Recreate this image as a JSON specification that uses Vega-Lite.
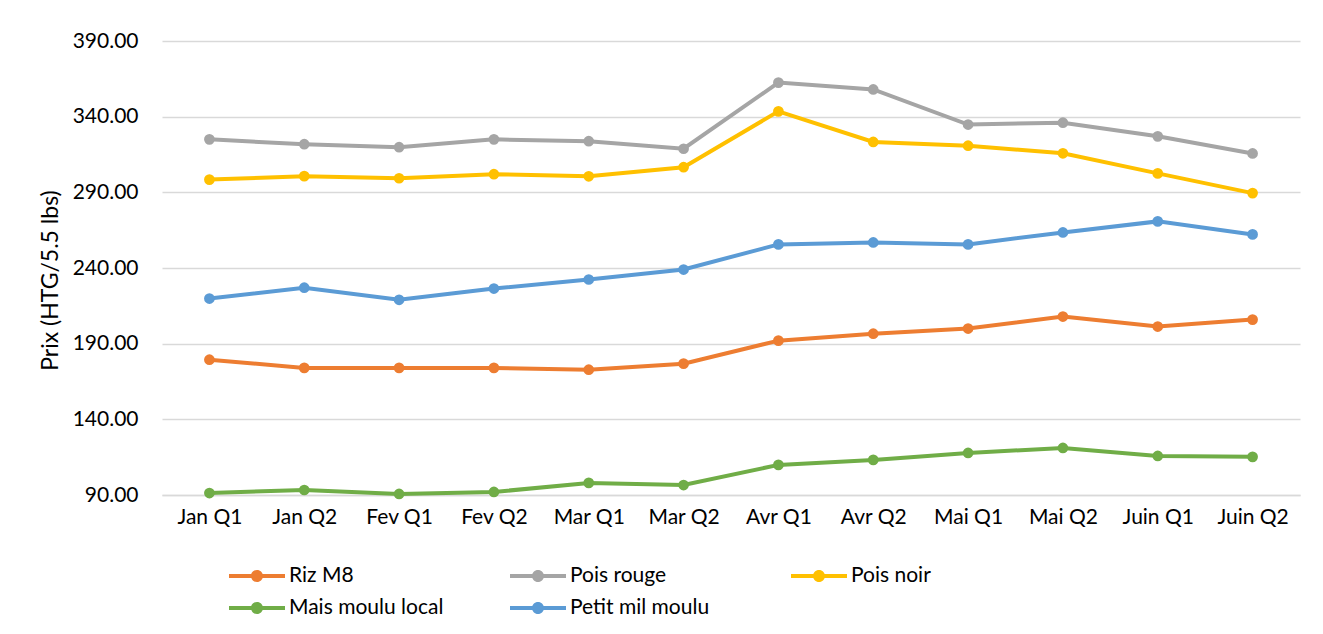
{
  "$schema": "https://vega.github.io/schema/vega-lite/v6.json",
  "width": 1138,
  "height": 454,
  "autosize": {"type": "none"},
  "padding": {"left": 162, "top": 41, "right": 23, "bottom": 139},
  "background": "#ffffff",
  "config": {
    "view": {"stroke": null},
    "font": "Lato",
    "axis": {"labelFont": "Lato", "titleFont": "Lato", "labelColor": "#000000", "titleColor": "#000000"}
  },
  "data": {
    "values": [
      {"periode": "Jan Q1", "produit": "Riz M8", "prix": 179.4},
      {"periode": "Jan Q2", "produit": "Riz M8", "prix": 174.0},
      {"periode": "Fev Q1", "produit": "Riz M8", "prix": 174.0},
      {"periode": "Fev Q2", "produit": "Riz M8", "prix": 174.0},
      {"periode": "Mar Q1", "produit": "Riz M8", "prix": 172.8},
      {"periode": "Mar Q2", "produit": "Riz M8", "prix": 176.8},
      {"periode": "Avr Q1", "produit": "Riz M8", "prix": 192.0},
      {"periode": "Avr Q2", "produit": "Riz M8", "prix": 196.6},
      {"periode": "Mai Q1", "produit": "Riz M8", "prix": 200.0},
      {"periode": "Mai Q2", "produit": "Riz M8", "prix": 207.9},
      {"periode": "Juin Q1", "produit": "Riz M8", "prix": 201.3},
      {"periode": "Juin Q2", "produit": "Riz M8", "prix": 205.9},
      {"periode": "Jan Q1", "produit": "Pois rouge", "prix": 325.0},
      {"periode": "Jan Q2", "produit": "Pois rouge", "prix": 321.8},
      {"periode": "Fev Q1", "produit": "Pois rouge", "prix": 319.8},
      {"periode": "Fev Q2", "produit": "Pois rouge", "prix": 325.0},
      {"periode": "Mar Q1", "produit": "Pois rouge", "prix": 323.8},
      {"periode": "Mar Q2", "produit": "Pois rouge", "prix": 318.8},
      {"periode": "Avr Q1", "produit": "Pois rouge", "prix": 362.5},
      {"periode": "Avr Q2", "produit": "Pois rouge", "prix": 358.0},
      {"periode": "Mai Q1", "produit": "Pois rouge", "prix": 334.8},
      {"periode": "Mai Q2", "produit": "Pois rouge", "prix": 336.0},
      {"periode": "Juin Q1", "produit": "Pois rouge", "prix": 327.0},
      {"periode": "Juin Q2", "produit": "Pois rouge", "prix": 315.7},
      {"periode": "Jan Q1", "produit": "Pois noir", "prix": 298.4},
      {"periode": "Jan Q2", "produit": "Pois noir", "prix": 300.7},
      {"periode": "Fev Q1", "produit": "Pois noir", "prix": 299.3},
      {"periode": "Fev Q2", "produit": "Pois noir", "prix": 302.0},
      {"periode": "Mar Q1", "produit": "Pois noir", "prix": 300.6},
      {"periode": "Mar Q2", "produit": "Pois noir", "prix": 306.6},
      {"periode": "Avr Q1", "produit": "Pois noir", "prix": 343.5},
      {"periode": "Avr Q2", "produit": "Pois noir", "prix": 323.3},
      {"periode": "Mai Q1", "produit": "Pois noir", "prix": 320.8},
      {"periode": "Mai Q2", "produit": "Pois noir", "prix": 315.8},
      {"periode": "Juin Q1", "produit": "Pois noir", "prix": 302.5},
      {"periode": "Juin Q2", "produit": "Pois noir", "prix": 289.5},
      {"periode": "Jan Q1", "produit": "Mais moulu local", "prix": 91.3},
      {"periode": "Jan Q2", "produit": "Mais moulu local", "prix": 93.3},
      {"periode": "Fev Q1", "produit": "Mais moulu local", "prix": 90.7},
      {"periode": "Fev Q2", "produit": "Mais moulu local", "prix": 92.0},
      {"periode": "Mar Q1", "produit": "Mais moulu local", "prix": 98.0},
      {"periode": "Mar Q2", "produit": "Mais moulu local", "prix": 96.6},
      {"periode": "Avr Q1", "produit": "Mais moulu local", "prix": 109.9},
      {"periode": "Avr Q2", "produit": "Mais moulu local", "prix": 113.2},
      {"periode": "Mai Q1", "produit": "Mais moulu local", "prix": 117.8},
      {"periode": "Mai Q2", "produit": "Mais moulu local", "prix": 121.1},
      {"periode": "Juin Q1", "produit": "Mais moulu local", "prix": 115.8},
      {"periode": "Juin Q2", "produit": "Mais moulu local", "prix": 115.2},
      {"periode": "Jan Q1", "produit": "Petit mil moulu", "prix": 219.8},
      {"periode": "Jan Q2", "produit": "Petit mil moulu", "prix": 227.0},
      {"periode": "Fev Q1", "produit": "Petit mil moulu", "prix": 219.0},
      {"periode": "Fev Q2", "produit": "Petit mil moulu", "prix": 226.4},
      {"periode": "Mar Q1", "produit": "Petit mil moulu", "prix": 232.4},
      {"periode": "Mar Q2", "produit": "Petit mil moulu", "prix": 239.0},
      {"periode": "Avr Q1", "produit": "Petit mil moulu", "prix": 255.6},
      {"periode": "Avr Q2", "produit": "Petit mil moulu", "prix": 256.9},
      {"periode": "Mai Q1", "produit": "Petit mil moulu", "prix": 255.6},
      {"periode": "Mai Q2", "produit": "Petit mil moulu", "prix": 263.5},
      {"periode": "Juin Q1", "produit": "Petit mil moulu", "prix": 270.8},
      {"periode": "Juin Q2", "produit": "Petit mil moulu", "prix": 262.2}
    ]
  },
  "mark": {"type": "line", "strokeWidth": 4, "point": {"filled": true, "size": 115, "opacity": 1}},
  "encoding": {
    "x": {
      "field": "periode",
      "type": "nominal",
      "sort": ["Jan Q1", "Jan Q2", "Fev Q1", "Fev Q2", "Mar Q1", "Mar Q2", "Avr Q1", "Avr Q2", "Mai Q1", "Mai Q2", "Juin Q1", "Juin Q2"],
      "scale": {"type": "point", "padding": 0.5},
      "axis": {
        "title": null,
        "labelAngle": 0,
        "labelFontSize": 21,
        "labelPadding": 11,
        "ticks": false,
        "domain": true,
        "domainColor": "#D9D9D9",
        "domainWidth": 1.5,
        "grid": false
      }
    },
    "y": {
      "field": "prix",
      "type": "quantitative",
      "scale": {"domain": [90, 390], "nice": false, "zero": false},
      "axis": {
        "title": "Prix (HTG/5.5 lbs)",
        "titleFontSize": 23,
        "titleFontWeight": "normal",
        "titlePadding": 10,
        "titleY": 239,
        "values": [90, 140, 190, 240, 290, 340, 390],
        "format": ".2f",
        "labelFontSize": 21,
        "labelPadding": 24,
        "ticks": false,
        "domain": false,
        "grid": true,
        "gridColor": "#D9D9D9",
        "gridWidth": 1.5
      }
    },
    "color": {
      "field": "produit",
      "type": "nominal",
      "sort": ["Riz M8", "Pois rouge", "Pois noir", "Mais moulu local", "Petit mil moulu"],
      "scale": {
        "domain": ["Riz M8", "Pois rouge", "Pois noir", "Mais moulu local", "Petit mil moulu"],
        "range": ["#ED7D31", "#A5A5A5", "#FFC000", "#70AD47", "#5B9BD5"]
      },
      "legend": {
        "title": null,
        "orient": "none",
        "legendX": 67,
        "legendY": 521,
        "direction": "horizontal",
        "columns": 3,
        "gridAlign": "all",
        "columnPadding": 66,
        "rowPadding": 8,
        "labelFont": "Lato",
        "labelFontSize": 21,
        "labelColor": "#000000",
        "labelOffset": 18,
        "symbolOffset": 14,
        "symbolType": "M-2,-0.14H2V0.14H-2Z M-0.43,0A0.43,0.43,0,1,1,0.43,0A0.43,0.43,0,1,1,-0.43,0Z",
        "symbolSize": 784,
        "symbolStrokeWidth": 0,
        "encode": {
          "symbols": {
            "update": {
              "fill": {"scale": "color", "field": "value"},
              "fillOpacity": {"value": 1},
              "opacity": {"value": 1}
            }
          }
        }
      }
    }
  }
}
